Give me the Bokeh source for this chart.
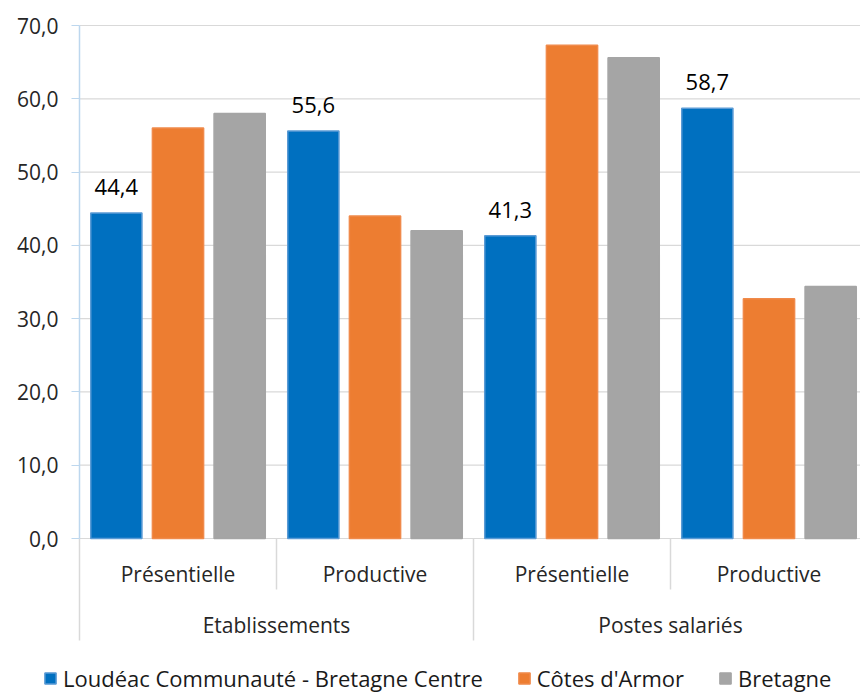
from bokeh.plotting import figure
from bokeh.models import ColumnDataSource, Range1d, FixedTicker, Legend, LegendItem
from bokeh.embed import file_html
from bokeh.resources import INLINE
from bokeh.core.properties import value

# ---- data ----
groups = ["Etablissements", "Etablissements", "Postes salariés", "Postes salariés"]
subcats = ["Présentielle", "Productive", "Présentielle", "Productive"]
series_names = ["Loudéac Communauté - Bretagne Centre", "Côtes d'Armor", "Bretagne"]
loudeac = [44.4, 55.6, 41.3, 58.7]
cotes = [56.0, 44.0, 67.3, 32.7]
bretagne = [58.0, 42.0, 65.6, 34.4]
y_ticks = [0, 10, 20, 30, 40, 50, 60, 70]
y_tick_labels = ["0,0", "10,0", "20,0", "30,0", "40,0", "50,0", "60,0", "70,0"]

# ---- style ----
colors = ["#0070C0", "#ED7D31", "#A5A5A5"]
outlines = ["#5B9BD5", "#F08A4B", "#A5A5A5"]
FONT = "Open Sans"
TXT = "#262626"
GRID = "#D9D9D9"
W, H = 860, 693
LEFT, TOP = 79, 25          # plot-area origin in pixels
UNIT_PX = 197.0             # pixels per category slot
PX = 70 / 513.0             # y data units per pixel

n = len(subcats)
xc = [i + 0.5 for i in range(n)]                  # slot centres
top_groups = list(dict.fromkeys(groups))
grp_x = [sum(x for x, g in zip(xc, groups) if g == tg) / groups.count(tg) for tg in top_groups]
y_max = max(y_ticks)

p = figure(
    width=W, height=H,
    x_range=Range1d(-LEFT / UNIT_PX, (W - LEFT) / UNIT_PX),
    y_range=Range1d(y_max - (H - TOP) * PX, y_max + TOP * PX),
    output_backend="svg", toolbar_location=None,
    min_border_left=0, min_border_top=0, min_border_right=0, min_border_bottom=0,
)
p.outline_line_color = None
p.background_fill_color = "white"
p.border_fill_color = "white"
p.xaxis.visible = False
p.xgrid.visible = False
p.ygrid.visible = False

# horizontal gridlines across the plot area only
p.segment(x0=[0] * len(y_ticks), x1=[n] * len(y_ticks), y0=y_ticks, y1=y_ticks,
          line_color=GRID, line_width=1.2)

ax = p.yaxis[0]
ax.fixed_location = 0
ax.ticker = FixedTicker(ticks=y_ticks)
ax.bounds = (min(y_ticks), y_max)
ax.major_label_overrides = {t: l for t, l in zip(y_ticks, y_tick_labels)}
ax.axis_line_color = "#BDD7EE"
ax.axis_line_width = 1.5
ax.major_tick_line_color = "#BDD7EE"
ax.major_tick_out = 8
ax.major_tick_in = 0
ax.minor_tick_line_color = None
ax.major_label_standoff = 13
ax.major_label_text_font = FONT
ax.major_label_text_font_size = "21px"
ax.major_label_text_color = TXT

offsets = [-0.313, 0.0, 0.313]
renderers = []
for vals, col, oc, off in zip([loudeac, cotes, bretagne], colors, outlines, offsets):
    src = ColumnDataSource(dict(x=[x + off for x in xc], top=vals))
    r = p.vbar(x="x", top="top", bottom=0, width=0.26,
               source=src, fill_color=col, line_color=oc, line_width=1.5)
    renderers.append(r)

# data labels for first series
lab_src = ColumnDataSource(dict(x=[x + offsets[0] for x in xc], y=loudeac,
                                text=[f"{v:.1f}".replace(".", ",") for v in loudeac]))
p.text(x="x", y="y", text="text", source=lab_src,
       text_align="center", text_baseline="alphabetic", y_offset=-26,
       text_font=value(FONT), text_font_size="22px", text_color="black")

# category axis: separators (long at group starts, short between sub-categories)
sep_x = [float(i) for i in range(n)]
sep_y1 = [-(102 if (i == 0 or groups[i - 1] != groups[i]) else 51) * PX for i in range(n)]
p.segment(x0=sep_x, x1=sep_x, y0=[0] * n, y1=sep_y1, line_color=GRID, line_width=1.5)

# category labels
p.text(x=xc, y=[0] * n, text=subcats, text_align="center",
       text_baseline="alphabetic", y_offset=35,
       text_font=value(FONT), text_font_size="21px", text_color=TXT)
p.text(x=grp_x, y=[0] * len(grp_x), text=top_groups, text_align="center",
       text_baseline="alphabetic", y_offset=86,
       text_font=value(FONT), text_font_size="21px", text_color=TXT)

legend = Legend(
    items=[LegendItem(label=nm, renderers=[r]) for nm, r in zip(series_names, renderers)],
    orientation="horizontal", location=(43, 0), padding=0, margin=0,
    spacing=34, label_standoff=6, glyph_width=14, glyph_height=14,
    label_text_font=FONT, label_text_font_size="22px", label_text_color="#1a1a1a",
    border_line_color=None, background_fill_alpha=0,
)
p.add_layout(legend)

open("out.html", "w").write(file_html(p, INLINE))
